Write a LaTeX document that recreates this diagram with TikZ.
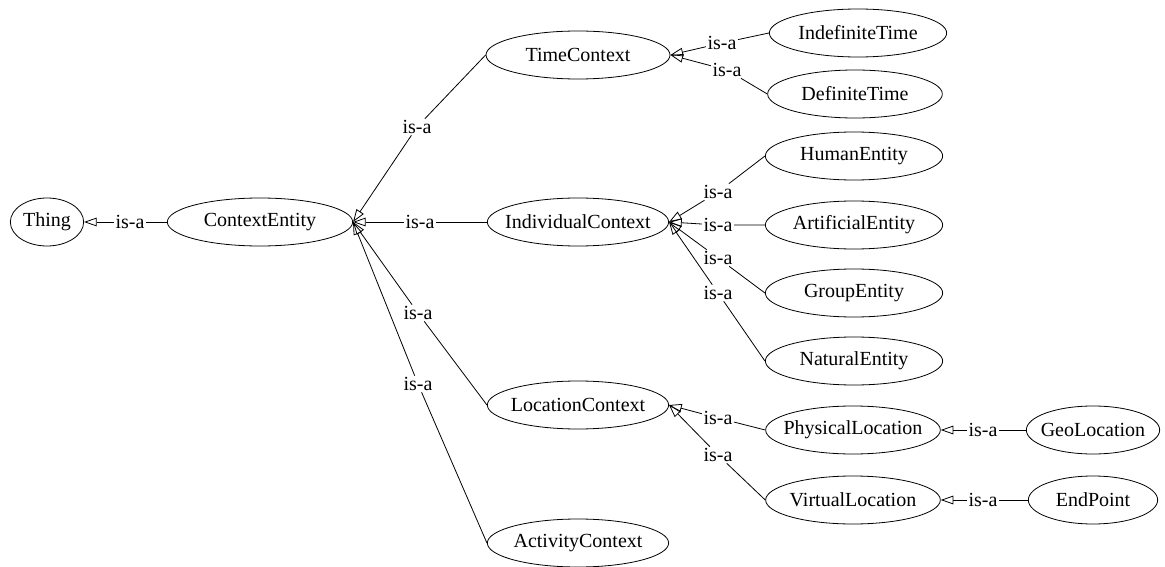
\documentclass[tikz,border=0pt]{standalone}
\usepackage{fontspec}
\setmainfont{Liberation Serif}
\usetikzlibrary{shapes.geometric, arrows.meta}

\begin{document}
\begin{tikzpicture}[x=0.75pt, y=-0.75pt]%
        \tikzstyle{concept}=[ellipse, draw, line width=0.6pt, inner xsep=-15pt, inner ysep=0pt, minimum height=36pt, font=\fontsize{15}{18}\selectfont];%
        \tikzstyle{isa}=[inner sep=1pt, font=\fontsize{15}{18}\selectfont];%
        \tikzstyle{sub}=[line width=0.6pt, -{Triangle[open, length=9.5pt, width=6.5pt]}];%
        \useasboundingbox (0, 0) rectangle (1165, 567);

        \node (thing) at (47, 222) [concept, minimum width=55pt] {Thing};
        \node (ce) at (260, 222) [concept, minimum width=139pt] {ContextEntity};

        \node (time) at (578, 55) [concept, minimum width=138pt] {TimeContext};
        \node (indiv) at (578, 222) [concept, minimum width=136pt] {IndividualContext};
        \node (loc) at (578, 405) [concept, minimum width=136pt] {LocationContext};
        \node (act) at (578, 543) [concept, minimum width=136pt] {ActivityContext};

        \node (indef) at (858, 33) [concept, minimum width=133pt] {IndefiniteTime};
        \node (def) at (855, 94) [concept, minimum width=131pt] {DefiniteTime};
        \node (human) at (854, 156) [concept, minimum width=133pt] {HumanEntity};
        \node (artif) at (854, 225) [concept, minimum width=133pt] {ArtificialEntity};
        \node (group) at (854, 293) [concept, minimum width=133pt] {GroupEntity};
        \node (natural) at (854, 361) [concept, minimum width=133pt] {NaturalEntity};
        \node (phys) at (853, 430) [concept, minimum width=131pt] {PhysicalLocation};
        \node (virt) at (853, 500) [concept, minimum width=131pt] {VirtualLocation};

        \node (geo) at (1093, 430) [concept, minimum width=100pt] {GeoLocation};
        \node (endp) at (1093, 500) [concept, minimum width=97pt] {EndPoint};

        % edge labels
        \node (l1) at (130, 222) [isa] {is-a};
        \node (l2) at (417, 127) [isa] {is-a};
        \node (l3) at (420, 222) [isa] {is-a};
        \node (l4) at (418, 313) [isa] {is-a};
        \node (l5) at (418, 384) [isa] {is-a};
        \node (l6) at (722, 43) [isa] {is-a};
        \node (l7) at (727, 70) [isa] {is-a};
        \node (l8) at (718, 192) [isa] {is-a};
        \node (l9) at (718, 225) [isa] {is-a};
        \node (l10) at (718, 258) [isa] {is-a};
        \node (l11) at (718, 293) [isa] {is-a};
        \node (l12) at (718, 418) [isa] {is-a};
        \node (l13) at (718, 455) [isa] {is-a};
        \node (l14) at (983, 430) [isa] {is-a};
        \node (l15) at (983, 500) [isa] {is-a};

        \draw[sub] (ce.west) -- (l1) -- (thing.east);

        \draw[sub] (time.west) -- (l2) -- (ce.east);
        \draw[sub] (indiv.west) -- (l3) -- (ce.east);
        \draw[sub] (loc.west) -- (l4) -- (ce.east);
        \draw[sub] (act.west) -- (l5) -- (ce.east);

        \draw[sub] (indef.west) -- (l6) -- (time.east);
        \draw[sub] (def.west) -- (l7) -- (time.east);

        \draw[sub] (human.west) -- (l8) -- (indiv.east);
        \draw[sub] (artif.west) -- (l9) -- (indiv.east);
        \draw[sub] (group.west) -- (l10) -- (indiv.east);
        \draw[sub] (natural.west) -- (l11) -- (indiv.east);

        \draw[sub] (phys.west) -- (l12) -- (loc.east);
        \draw[sub] (virt.west) -- (l13) -- (loc.east);

        \draw[sub] (geo.west) -- (l14) -- (phys.east);
        \draw[sub] (endp.west) -- (l15) -- (virt.east);
    \end{tikzpicture}
\end{document}
